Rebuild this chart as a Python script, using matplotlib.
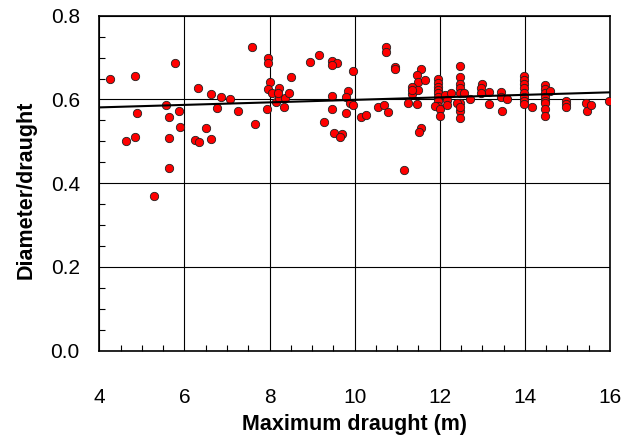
import numpy as np
import matplotlib
matplotlib.use('Agg')
import matplotlib.pyplot as plt
from matplotlib.ticker import MultipleLocator

plt.rcParams['font.family'] = ['Liberation Sans', 'DejaVu Sans']

# maximum draught (m) and diameter/draught ratio
draught = [4.25, 4.83, 5.78, 7.58, 6.31, 6.62, 6.86, 7.07, 5.56, 4.88,
           5.87, 5.65, 6.76, 7.27, 7.66, 5.89, 6.50, 4.62, 4.83, 5.63,
           6.25, 6.34, 6.62, 5.65, 5.28,
           7.97, 7.97, 8.96, 9.16, 9.47, 9.58, 9.47, 8.50, 8.02, 9.97,
           10.74, 10.74, 10.96, 10.96, 11.55, 11.47, 11.48, 11.66, 11.35, 11.35,
           11.48, 11.25, 11.47, 7.97, 8.05, 8.22, 8.16, 8.22, 8.36, 8.46,
           8.33, 7.93, 9.47, 9.47, 9.85, 9.80, 9.90, 9.97, 9.80, 9.28,
           9.51, 9.71, 9.66, 10.16, 10.26, 10.56, 10.68, 10.78, 11.55, 11.52,
           11.15, 8.20, 11.35,
           11.97, 11.97, 11.97, 11.97, 11.97, 11.97, 11.97, 11.97,
           11.89, 12.01, 12.01, 12.13, 12.17, 12.17, 12.27,
           12.47, 12.47, 12.47, 12.47, 12.47, 12.47, 12.47, 12.47, 12.41, 12.47,
           12.56, 12.71, 12.99, 12.98, 12.97, 13.16, 13.16, 13.45, 13.45, 13.46, 13.58,
           13.97, 13.97, 13.97, 13.97, 13.97, 13.97, 13.97, 13.97, 14.16,
           14.47, 14.47, 14.47, 14.47, 14.47, 14.47, 14.47, 14.47,
           14.59, 14.97, 14.97, 14.97, 15.44, 15.45, 15.55, 15.97]
ratio = [0.650, 0.655, 0.688, 0.725, 0.628, 0.614, 0.606, 0.601, 0.587, 0.567,
         0.572, 0.559, 0.579, 0.572, 0.542, 0.535, 0.532, 0.500, 0.510, 0.508,
         0.502, 0.498, 0.505, 0.437, 0.370,
         0.700, 0.687, 0.689, 0.707, 0.693, 0.687, 0.683, 0.653, 0.642, 0.667,
         0.725, 0.713, 0.677, 0.672, 0.672, 0.659, 0.642, 0.647, 0.630, 0.612,
         0.623, 0.592, 0.589, 0.624, 0.616, 0.628, 0.595, 0.603, 0.603, 0.616,
         0.581, 0.576, 0.608, 0.576, 0.621, 0.606, 0.591, 0.586, 0.567, 0.545,
         0.520, 0.517, 0.510, 0.559, 0.564, 0.581, 0.586, 0.569, 0.533, 0.522,
         0.431, 0.615, 0.622,
         0.648, 0.640, 0.630, 0.623, 0.615, 0.607, 0.597, 0.584,
         0.584, 0.577, 0.560, 0.611, 0.599, 0.587, 0.616,
         0.680, 0.654, 0.637, 0.627, 0.615, 0.592, 0.573, 0.556, 0.592, 0.583,
         0.615, 0.600, 0.637, 0.628, 0.615, 0.618, 0.589, 0.618, 0.607, 0.573, 0.600,
         0.656, 0.646, 0.637, 0.627, 0.616, 0.607, 0.597, 0.589, 0.581,
         0.634, 0.625, 0.615, 0.607, 0.597, 0.591, 0.577, 0.560,
         0.621, 0.596, 0.589, 0.583, 0.592, 0.572, 0.586, 0.596]

# linear trend line end points
trend_x = [4, 16]
trend_y = [0.581, 0.617]

fig = plt.figure(figsize=(6.38, 4.41), dpi=100)
ax = fig.add_axes([0.1556, 0.2048, 0.8005, 0.7596])

ax.grid(True, which='major', color='black', lw=0.8)
ax.set_axisbelow(True)
ax.scatter(draught, ratio, s=36, c='#ff0000', edgecolors='#202020', linewidths=0.6, zorder=3)
ax.plot(trend_x, trend_y, color='black', lw=1.5, zorder=4)

ax.set_xlim(4, 16)
ax.set_ylim(0, 0.8)
ax.xaxis.set_major_locator(MultipleLocator(2))
ax.xaxis.set_minor_locator(MultipleLocator(0.5))
ax.yaxis.set_major_locator(MultipleLocator(0.2))
ax.yaxis.set_minor_locator(MultipleLocator(0.05))
ax.yaxis.set_major_formatter(matplotlib.ticker.FormatStrFormatter('%.1f'))
ax.tick_params(which='major', length=0, labelsize=15, pad=14)
ax.tick_params(axis='x', which='major', pad=27)
ax.tick_params(which='minor', direction='in', length=4, width=0.8)

for s in ax.spines.values():
    s.set_linewidth(1.2)

ax.set_xlabel('Maximum draught (m)', fontsize=15.5, fontweight='bold', labelpad=5)
ax.set_ylabel('Diameter/draught', fontsize=15.5, fontweight='bold', labelpad=10)
ax.yaxis.label.set_y(0.48)

fig.savefig('out.png', dpi=100)
plt.close()
